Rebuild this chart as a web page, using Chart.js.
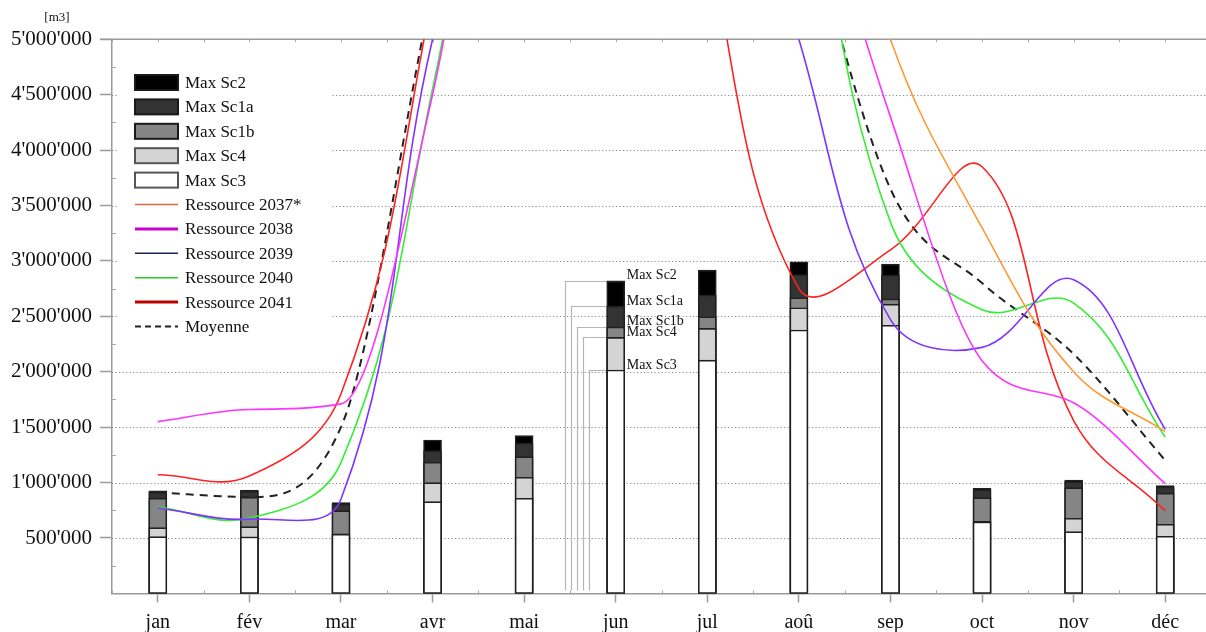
<!DOCTYPE html>
<html><head><meta charset="utf-8">
<script src="https://cdn.jsdelivr.net/npm/chart.js@4.4.1/dist/chart.umd.min.js"></script>
<style>html,body{margin:0;padding:0;background:#fff;overflow:hidden;}#wrap{width:1206px;height:632px;position:relative;overflow:hidden;}</style>
</head><body><div id="wrap"><canvas id="c" width="1211" height="632"></canvas></div>
<script>
const months = ['jan','fév','mar','avr','mai','jun','jul','aoû','sep','oct','nov','déc'];
const yTicks = [500000,1000000,1500000,2000000,2500000,3000000,3500000,4000000,4500000,5000000];
const unitLabel = '[m3]';

const maxSc2  = [925000, 933000, 820000, 1384000, 1423000, 2820000, 2917000, 2992000, 2971000, 948000, 1023000, 972000];
const maxSc1a = [912000, 920000, 808000, 1288000, 1354000, 2592000, 2692000, 2878000, 2872000, 936000, 1010000, 960000];
const maxSc1b = [858000, 867000, 747000, 1183000, 1234000, 2405000, 2496000, 2667000, 2656000, 864000, 954000, 903000];
const maxSc4  = [593000, 602000, 537000, 999000, 1048000, 2310000, 2391000, 2577000, 2610000, 650000, 678000, 624000];
const maxSc3  = [512000, 510000, 535000, 828000, 858000, 2015000, 2105000, 2376000, 2420000, 645000, 557000, 515000];

const res2037 = [null, null, null, null, null, null, null, 8000000, 5000000, 3300000, 2000000, 1460000];
const res2038 = [1550000, 1660000, 1710000, 4500000, 9000000, 11000000, 10000000, 7000000, 4300000, 2100000, 1720000, 990000];
const res2039 = [770000, 670000, 850000, 5000000, 8000000, 10000000, 8000000, 5000000, 2470000, 2220000, 2830000, 1480000];
const res2040 = [780000, 680000, 1180000, 4550000, 9000000, 11000000, 10000000, 7000000, 3350000, 2560000, 2620000, 1410000];
const res2041 = [1070000, 1060000, 1800000, 5400000, 10000000, 11000000, 6000000, 2750000, 3100000, 3850000, 1560000, 745000];
const moyenne = [910000, 870000, 1500000, 5450000, 9000000, 11000000, 9500000, 6400000, 3650000, 2800000, 2160000, 1200000];

const barNames = ['Max Sc2','Max Sc1a','Max Sc1b','Max Sc4','Max Sc3'];
const barSeries = [maxSc2, maxSc1a, maxSc1b, maxSc4, maxSc3];
const barFill = ['#000000','#333333','#858585','#d4d4d4','#ffffff'];
const lineNames = ['Ressource 2037*','Ressource 2038','Ressource 2039','Ressource 2040','Ressource 2041','Moyenne'];
const lineSeries = [res2037, res2038, res2039, res2040, res2041, moyenne];
const lineColors = ['#ff9933','#ff33ff','#8033ff','#33ee33','#ff2222','#222222'];
const lineModes = ['default','monotone','default','default','default','monotone'];
const legendLineColors = ['#dd6a45','#cc00cc','#22225a','#22cc22','#bb0000','#222222'];
const legendLineWidths = [1.5, 3, 1.5, 1.5, 3, 2];
const annotatedMonth = 5;

const SERIF = '"Liberation Serif", "DejaVu Serif", serif';
const fmt = v => String(v).replace(/\B(?=(\d{3})+(?!\d))/g, "'");

const datasets = [];
for (let k = barSeries.length - 1; k >= 0; k--) {
  datasets.push({
    type: 'bar', label: barNames[k], data: barSeries[k],
    backgroundColor: barFill[k], borderColor: '#202020', borderWidth: 1.6,
    borderSkipped: false, barThickness: 18, grouped: false, order: 1
  });
}
lineSeries.forEach((s, k) => {
  datasets.push({
    type: 'line', label: lineNames[k], data: s,
    borderColor: lineColors[k], borderWidth: k === 5 ? 2 : 1.6,
    borderDash: k === 5 ? [8, 6] : [],
    pointRadius: 0, fill: false, tension: 0.4, cubicInterpolationMode: lineModes[k],
    capBezierPoints: false, order: 0
  });
});

const decor = {
  id: 'decor',
  beforeDatasetsDraw(chart) {
    const ctx = chart.ctx, ca = chart.chartArea, xs = chart.scales.x, ys = chart.scales.y;
    ctx.save();
    ctx.strokeStyle = '#8a8a8a'; ctx.lineWidth = 1.2; ctx.setLineDash([1.2, 2.3]);
    yTicks.forEach(v => {
      if (v >= 5000000) return;
      const y = Math.round(ys.getPixelForValue(v)) + 0.5;
      ctx.beginPath(); ctx.moveTo(ca.left, y); ctx.lineTo(ca.right, y); ctx.stroke();
    });
    ctx.setLineDash([]);
    ctx.strokeStyle = '#9a9a9a'; ctx.lineWidth = 1.5;
    ctx.beginPath(); ctx.moveTo(ca.left - 12, ca.top); ctx.lineTo(ca.right, ca.top); ctx.stroke();
    ctx.lineWidth = 1; ctx.strokeStyle = '#aaaaaa';
    for (let i = -0.5; i <= months.length; i += 0.5) {
      const x = Math.round(xs.getPixelForValue(i)) + 0.5;
      ctx.beginPath(); ctx.moveTo(x, ca.top); ctx.lineTo(x, ca.top + 3); ctx.stroke();
      if (i % 1 !== 0) { ctx.beginPath(); ctx.moveTo(x, ca.bottom); ctx.lineTo(x, ca.bottom - 3); ctx.stroke(); }
    }
    for (let v = 250000; v < 5000000; v += 500000) {
      const y = Math.round(ys.getPixelForValue(v)) + 0.5;
      ctx.beginPath(); ctx.moveTo(ca.left, y); ctx.lineTo(ca.left + 4, y); ctx.stroke();
    }
    const cx = xs.getPixelForValue(annotatedMonth);
    const y0 = ys.getPixelForValue(0) - 3;
    ctx.strokeStyle = '#b5b5b5'; ctx.lineWidth = 1.2;
    barSeries.forEach((arr, k) => {
      const y = Math.round(ys.getPixelForValue(arr[annotatedMonth])) + 0.5;
      const lx = Math.round(cx - 51 + 6 * k) + 0.5;
      ctx.beginPath(); ctx.moveTo(cx - 9, y); ctx.lineTo(lx, y); ctx.lineTo(lx, y0); ctx.stroke();
    });
    ctx.restore();
  },
  afterDatasetsDraw(chart) {
    const ctx = chart.ctx, ca = chart.chartArea, xs = chart.scales.x, ys = chart.scales.y;
    ctx.save();
    const cx = xs.getPixelForValue(annotatedMonth);
    ctx.fillStyle = '#111'; ctx.font = '14px ' + SERIF; ctx.textBaseline = 'alphabetic'; ctx.textAlign = 'left';
    barSeries.forEach((arr, k) => {
      const y = ys.getPixelForValue(arr[annotatedMonth]);
      ctx.fillText(barNames[k], cx + 11, y - 1.5);
    });
    ctx.fillStyle = '#fff';
    ctx.fillRect(ca.left + 5, ca.top + 4, 331 - ca.left - 5, 345 - ca.top - 4);
    const bx = 135, bw = 43, bh = 15, tx = 185, y0 = 82.5, step = 24.4;
    ctx.font = '17px ' + SERIF; ctx.textBaseline = 'middle';
    barNames.forEach((n, k) => {
      const yc = y0 + step * k;
      ctx.fillStyle = barFill[k];
      ctx.fillRect(bx, yc - bh / 2, bw, bh);
      ctx.strokeStyle = k < 3 ? '#1a1a1a' : '#555'; ctx.lineWidth = 2;
      ctx.strokeRect(bx, yc - bh / 2, bw, bh);
      ctx.fillStyle = '#111'; ctx.fillText(n, tx, yc + 1);
    });
    lineNames.forEach((n, k) => {
      const yc = y0 + step * (k + 5);
      ctx.strokeStyle = legendLineColors[k]; ctx.lineWidth = legendLineWidths[k];
      ctx.setLineDash(k === 5 ? [6, 4] : []);
      ctx.beginPath(); ctx.moveTo(bx, yc); ctx.lineTo(bx + bw, yc); ctx.stroke();
      ctx.setLineDash([]);
      ctx.fillStyle = '#111'; ctx.fillText(n, tx, yc + 1);
    });
    ctx.restore();
  },
  afterDraw(chart) {
    const ctx = chart.ctx;
    ctx.save();
    ctx.fillStyle = '#111'; ctx.font = '13px ' + SERIF; ctx.textAlign = 'center'; ctx.textBaseline = 'middle';
    ctx.fillText(unitLabel, 57, 18);
    ctx.restore();
  }
};

new Chart(document.getElementById('c'), {
  type: 'bar',
  data: { labels: months, datasets },
  options: {
    responsive: false, animation: false, events: [],
    layout: { padding: { top: 39.3, right: 0, left: 0, bottom: 0 } },
    elements: { line: { capBezierPoints: false } },
    plugins: { legend: { display: false }, tooltip: { enabled: false } },
    scales: {
      x: {
        offset: true,
        grid: { drawOnChartArea: false, offset: false, drawTicks: true, tickLength: 9, tickColor: '#9a9a9a', tickWidth: 1.5 },
        border: { color: '#9a9a9a', width: 1.5 },
        ticks: { color: '#111', font: { family: SERIF, size: 20 }, padding: 8, maxRotation: 0 },
        afterFit: s => { s.height = 38.6; }
      },
      y: {
        min: 0, max: 5000000,
        afterBuildTicks: s => { s.ticks = yTicks.map(v => ({ value: v })); },
        grid: { drawOnChartArea: false, drawTicks: true, tickLength: 12, tickColor: '#9a9a9a', tickWidth: 1.5 },
        border: { color: '#9a9a9a', width: 1.5 },
        ticks: { color: '#111', font: { family: SERIF, size: 21 }, padding: 8, callback: v => fmt(v) },
        afterFit: s => { s.width = 112; }
      }
    }
  },
  plugins: [decor]
});
</script></body></html>
